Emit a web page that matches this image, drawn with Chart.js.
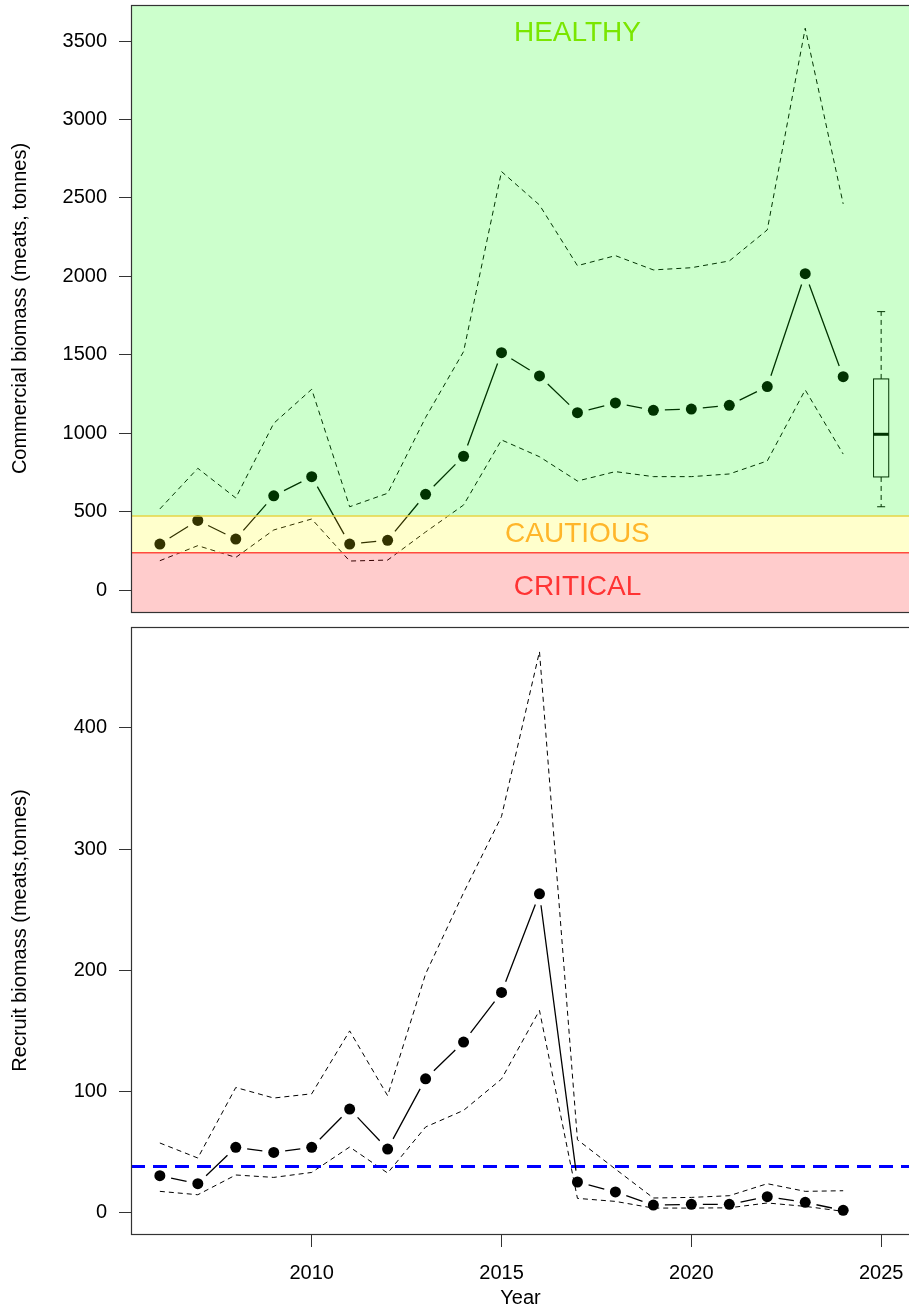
<!DOCTYPE html>
<html>
<head>
<meta charset="utf-8">
<script src="https://cdn.jsdelivr.net/npm/chart.js@4/dist/chart.umd.min.js"></script>
<style>
  html, body { margin: 0; padding: 0; background: #fff; overflow: hidden; }
  #wrap { position: relative; width: 909px; height: 1308px; overflow: hidden; }
  canvas { position: absolute; left: 0; }
</style>
</head>
<body>
<div id="wrap">
  <canvas id="topChart" width="911" height="620" style="top:0;width:911px;height:620px"></canvas>
  <canvas id="bottomChart" width="911" height="688" style="top:620px;width:911px;height:688px"></canvas>
</div>
<script>
// Data
const years = [2006, 2007, 2008, 2009, 2010, 2011, 2012, 2013, 2014, 2015, 2016, 2017, 2018, 2019, 2020, 2021, 2022, 2023, 2024];

const commercial = [293, 444, 325, 601, 723, 293, 317, 610, 853, 1513, 1365, 1131, 1193, 1146, 1154, 1178, 1297, 2017, 1360];
const commercialUpper = [517, 776, 587, 1063, 1280, 531, 617, 1100, 1520, 2668, 2455, 2068, 2132, 2041, 2055, 2098, 2296, 3582, 2462];
const commercialLower = [187, 283, 208, 383, 453, 185, 191, 370, 542, 957, 850, 695, 755, 723, 723, 740, 823, 1276, 867];

const recruit = [30.5, 23.9, 53.9, 49.7, 53.9, 85.5, 52.5, 110.5, 140.8, 181.7, 263.1, 25.3, 17.1, 6.3, 6.9, 6.9, 13.2, 8.5, 1.9];
const recruitUpper = [57.5, 45.1, 103.3, 94.6, 98.1, 150, 96.5, 197, 264, 327, 463, 60.2, 36, 12.1, 12.6, 14, 23.9, 17.6, 18.1];
const recruitLower = [17.6, 14.8, 31.1, 29.1, 33.2, 54.2, 32.7, 70.7, 84.4, 110.3, 166.9, 11.8, 9.3, 3.8, 3.8, 4, 8, 5.2, 1.1];

// projection box for next year: min, q1, median, q3, max
const boxYear = 2025;
const boxStats = [531, 721, 993, 1346, 1775];

// reference points
const lrp = 238;
const usr = 472;
const recruitRef = 38;

const zoneNames = ['HEALTHY', 'CAUTIOUS', 'CRITICAL'];
const zoneLabelYear = 2017;

// axis ranges and ticks
const xMin = 2005.24, xMax = 2025.76;
const xTicks = [2010, 2015, 2020, 2025];
const topYMin = -140, topYMax = 3730;
const topYTicks = [0, 500, 1000, 1500, 2000, 2500, 3000, 3500];
const botYMin = -17.6, botYMax = 483.3;
const botYTicks = [0, 100, 200, 300, 400];

Chart.defaults.font.family = '"Liberation Sans", Arial, Helvetica, sans-serif';
Chart.defaults.font.size = 20;
Chart.defaults.color = '#000';

const pts = (vals) => vals.map((v, i) => ({ x: years[i], y: v }));

// dots (joined by gapLine plugin), then dashed intervals
function seriesDatasets(mid, upper, lower) {
    return [
        { data: pts(mid), showLine: false, pointRadius: 5.5, pointBackgroundColor: '#000', pointBorderWidth: 0, gapLine: true },
        { data: pts(upper), borderColor: '#000', borderWidth: 1, borderDash: [5, 4], pointRadius: 0 },
        { data: pts(lower), borderColor: '#000', borderWidth: 1, borderDash: [5, 4], pointRadius: 0 }
    ];
}

// R type="b": segments between the points, stopping short of each dot
const gapLinePlugin = {
    id: 'gapLine',
    afterDatasetsDraw(chart) {
        const ctx = chart.ctx;
        const gap = 11.5;
        ctx.save();
        ctx.strokeStyle = '#000';
        ctx.lineWidth = 1.3;
        chart.data.datasets.forEach((ds, i) => {
            if (!ds.gapLine) return;
            const els = chart.getDatasetMeta(i).data;
            ctx.beginPath();
            for (let k = 1; k < els.length; k++) {
                const p0 = els[k - 1], p1 = els[k];
                const dx = p1.x - p0.x, dy = p1.y - p0.y;
                const len = Math.hypot(dx, dy);
                if (len <= gap * 2) continue;
                const ux = dx / len, uy = dy / len;
                ctx.moveTo(p0.x + ux * gap, p0.y + uy * gap);
                ctx.lineTo(p1.x - ux * gap, p1.y - uy * gap);
            }
            ctx.stroke();
        });
        ctx.restore();
    }
};

const framePlugin = {
    id: 'frame',
    afterDraw(chart) {
        const { ctx, chartArea: a } = chart;
        ctx.save();
        ctx.strokeStyle = '#333';
        ctx.lineWidth = 1.2;
        ctx.strokeRect(a.left + 0.5, a.top + 0.5, a.right - a.left, a.bottom - a.top);
        ctx.restore();
    }
};

const zonePlugin = {
    id: 'zones',
    afterDatasetsDraw(chart) {
        const { ctx, chartArea: a, scales: { x, y } } = chart;
        ctx.save();

        // box plot of the projection
        const bx = x.getPixelForValue(boxYear);
        const half = (x.getPixelForValue(boxYear + 0.2) - bx);
        const [mn, q1, md, q3, mx] = boxStats.map(v => y.getPixelForValue(v));
        ctx.strokeStyle = '#000';
        ctx.lineWidth = 1;
        ctx.setLineDash([5, 4]);
        ctx.beginPath();
        ctx.moveTo(bx, q3); ctx.lineTo(bx, mx);
        ctx.moveTo(bx, q1); ctx.lineTo(bx, mn);
        ctx.stroke();
        ctx.setLineDash([]);
        ctx.beginPath();
        ctx.moveTo(bx - 4, mx); ctx.lineTo(bx + 4, mx);
        ctx.moveTo(bx - 4, mn); ctx.lineTo(bx + 4, mn);
        ctx.stroke();
        ctx.strokeRect(bx - half, q3, half * 2, q1 - q3);
        ctx.lineWidth = 3;
        ctx.beginPath();
        ctx.moveTo(bx - half, md); ctx.lineTo(bx + half, md);
        ctx.stroke();

        // translucent zones over everything
        const yl = y.getPixelForValue(lrp);
        const yu = y.getPixelForValue(usr);
        const w = a.right - a.left;
        ctx.fillStyle = 'rgba(255,0,0,0.2)';
        ctx.fillRect(a.left, yl, w, a.bottom - yl);
        ctx.fillStyle = 'rgba(255,255,0,0.2)';
        ctx.fillRect(a.left, yu, w, yl - yu);
        ctx.fillStyle = 'rgba(0,255,0,0.2)';
        ctx.fillRect(a.left, a.top, w, yu - a.top);

        ctx.lineWidth = 1.5;
        ctx.strokeStyle = '#E6D545';
        ctx.beginPath(); ctx.moveTo(a.left, yu); ctx.lineTo(a.right, yu); ctx.stroke();
        ctx.strokeStyle = '#FF4B3E';
        ctx.beginPath(); ctx.moveTo(a.left, yl); ctx.lineTo(a.right, yl); ctx.stroke();

        // zone labels
        const lx = x.getPixelForValue(zoneLabelYear);
        ctx.font = '28px "Liberation Sans", Arial, sans-serif';
        ctx.textAlign = 'center';
        ctx.textBaseline = 'middle';
        ctx.fillStyle = '#7AE600';
        ctx.fillText(zoneNames[0], lx, y.getPixelForValue(3550));
        ctx.fillStyle = '#FFB62A';
        ctx.fillText(zoneNames[1], lx, (yu + yl) / 2);
        ctx.fillStyle = '#FF3333';
        ctx.fillText(zoneNames[2], lx, y.getPixelForValue(20));
        ctx.restore();
    }
};

function yAxis(min, max, ticks, title) {
    return {
        type: 'linear',
        position: 'left',
        min: min,
        max: max,
        afterFit(scale) { scale.width = 131; scale.paddingTop = 0; scale.paddingBottom = 0; },
        afterBuildTicks(scale) { scale.ticks = ticks.map(v => ({ value: v })); },
        ticks: { padding: 12, callback: v => String(v), font: { size: 20 } },
        grid: { drawOnChartArea: false, tickLength: 12, color: '#333', lineWidth: 1 },
        border: { display: false },
        title: { display: true, text: title, padding: { top: 8, bottom: 0 }, font: { size: 20 } }
    };
}

// Top panel: commercial biomass
new Chart(document.getElementById('topChart'), {
    type: 'line',
    data: { datasets: seriesDatasets(commercial, commercialUpper, commercialLower) },
    options: {
        responsive: false,
        animation: false,
        events: [],
        layout: { autoPadding: false, padding: { top: 5, bottom: 8, right: 1, left: 0 } },
        plugins: { legend: { display: false }, tooltip: { enabled: false } },
        scales: {
            x: { type: 'linear', min: xMin, max: xMax, display: false },
            y: yAxis(topYMin, topYMax, topYTicks, 'Commercial biomass (meats, tonnes)')
        }
    },
    plugins: [gapLinePlugin, zonePlugin, framePlugin]
});

// Bottom panel: recruit biomass
const botSets = seriesDatasets(recruit, recruitUpper, recruitLower);
botSets.splice(1, 0, {
    data: [{ x: xMin, y: recruitRef }, { x: xMax, y: recruitRef }],
    borderColor: '#0000FF', borderWidth: 3, borderDash: [14, 8], pointRadius: 0
});

new Chart(document.getElementById('bottomChart'), {
    type: 'line',
    data: { datasets: botSets },
    options: {
        responsive: false,
        animation: false,
        events: [],
        layout: { autoPadding: false, padding: { top: 7, bottom: 0, right: 1, left: 0 } },
        plugins: { legend: { display: false }, tooltip: { enabled: false } },
        scales: {
            x: {
                type: 'linear',
                min: xMin,
                max: xMax,
                afterFit(scale) { scale.height = 74; scale.paddingLeft = 0; scale.paddingRight = 0; },
                afterBuildTicks(scale) { scale.ticks = xTicks.map(v => ({ value: v })); },
                ticks: { padding: 14, callback: v => String(v), maxRotation: 0, autoSkip: false },
                grid: { drawOnChartArea: false, tickLength: 13, color: '#333', lineWidth: 1 },
                border: { display: false },
                title: { display: true, text: 'Year', padding: { top: 0, bottom: 0 }, font: { size: 20, lineHeight: 1 } }
            },
            y: yAxis(botYMin, botYMax, botYTicks, 'Recruit biomass (meats,tonnes)')
        }
    },
    plugins: [gapLinePlugin, framePlugin]
});
</script>
</body>
</html>
